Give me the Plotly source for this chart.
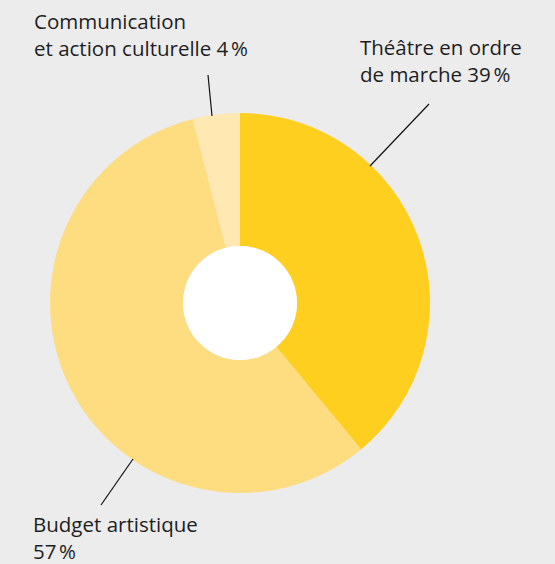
import plotly.graph_objects as go

labels = ["Théâtre en ordre de marche", "Budget artistique", "Communication et action culturelle"]
values = [39, 57, 4]
colors = ["#FFCF1F", "#FEDC80", "#FFE8B2"]
label_texts = [
    "Théâtre en ordre<br>de marche 39\u202f%",
    "Budget artistique<br>57\u202f%",
    "Communication<br>et action culturelle 4\u202f%",
]

W, H = 555, 564

def px(x):
    return x / W

def py(y):
    return 1 - y / H

fig = go.Figure()
fig.add_trace(go.Pie(
    labels=labels, values=values, sort=False, direction="clockwise", rotation=0,
    marker=dict(colors=colors, line=dict(width=0)), textinfo="none", hoverinfo="none",
    hole=0.3, showlegend=False,
    domain=dict(x=[px(50), px(430)], y=[py(493), py(113)]),
))

# white centre
fig.add_shape(type="circle", xref="paper", yref="paper",
              x0=px(183), x1=px(297), y0=py(360), y1=py(246),
              fillcolor="white", line=dict(width=0), layer="above")

# leader lines
for (x0, y0, x1, y1) in [(208, 75, 212, 116), (429, 104, 370, 166), (133, 459, 101, 505)]:
    fig.add_shape(type="line", xref="paper", yref="paper",
                  x0=px(x0), y0=py(y0), x1=px(x1), y1=py(y1),
                  line=dict(color="#111111", width=1.2))

font = dict(family="Open Sans, sans-serif", size=20.5, color="#1e1e1e")
for text, (x, y) in zip(label_texts, [(358, 31), (31, 508), (32, 5)]):
    fig.add_annotation(text=text, xref="paper", yref="paper", x=px(x), y=py(y),
                       xanchor="left", yanchor="top", showarrow=False, align="left",
                       font=font)

fig.update_layout(width=W, height=H, margin=dict(l=0, r=0, t=0, b=0),
                  paper_bgcolor="#ECECEC", plot_bgcolor="#ECECEC")
fig.write_html("out.html", config={"displayModeBar": False},
               post_script="document.body.style.margin='0';")
